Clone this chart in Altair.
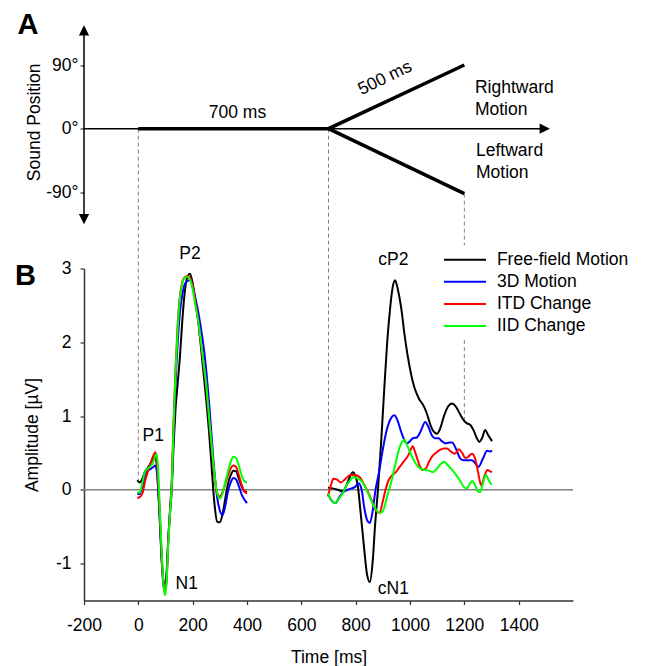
import altair as alt
import pandas as pd

FONT = "Liberation Sans"
FS = 17.5

# ---------------- data ----------------
SERIES = ["Free-field Motion", "3D Motion", "ITD Change", "IID Change"]
COLORS = ["#000000", "#0000ff", "#ff0000", "#00ff00"]

# segment 1 (sound onset), common time grid in ms
T1 = [-4, 5, 15, 25, 35, 45, 55, 62, 68, 74, 80, 86, 92, 98, 104, 110, 117, 123, 130, 137,
      145, 153, 162, 170, 180, 190, 200, 210, 220, 230, 240, 250, 260, 270, 280, 290, 300,
      310, 320, 330, 340, 350, 360, 370, 380, 390, 400]
BLACK_V1 = [0.13, 0.10, 0.15, 0.25, 0.30, 0.36, 0.44, 0.46, 0.33, -0.05, -0.5, -0.95, -1.22, -1.30,
            -1.12, -0.68, -0.3, 0.0, 0.62, 1.1, 1.45, 1.8, 2.3, 2.65, 2.88, 2.93, 2.8, 2.55, 2.3,
            1.95, 1.58, 1.22, 0.8, 0.3, -0.18, -0.43, -0.44, -0.33, -0.12, 0.08, 0.2, 0.26, 0.25,
            0.15, 0.05, -0.02, -0.03]
BLUE_V1 = [-0.05, -0.06, 0.05, 0.2, 0.26, 0.28, 0.31, 0.33, 0.25, -0.05, -0.45, -0.95, -1.28, -1.38,
           -1.2, -0.7, -0.25, 0.08, 0.8, 1.45, 2.0, 2.4, 2.65, 2.78, 2.83, 2.84, 2.77, 2.6, 2.42,
           2.2, 1.95, 1.62, 1.2, 0.72, 0.25, -0.1, -0.28, -0.34, -0.22, -0.02, 0.1, 0.16, 0.14,
           0.05, -0.06, -0.13, -0.18]
RED_V1 = [-0.11, -0.10, -0.05, 0.12, 0.25, 0.36, 0.46, 0.51, 0.40, 0.05, -0.4, -0.9, -1.25, -1.40,
          -1.22, -0.72, -0.25, 0.1, 0.95, 1.65, 2.25, 2.62, 2.82, 2.88, 2.9, 2.88, 2.76, 2.55, 2.3,
          2.02, 1.72, 1.4, 1.0, 0.58, 0.2, -0.05, -0.09, -0.03, 0.08, 0.2, 0.29, 0.33, 0.31, 0.2,
          0.07, -0.02, -0.05]
GREEN_V1 = [-0.03, -0.04, 0.10, 0.25, 0.29, 0.32, 0.38, 0.45, 0.49, 0.2, -0.35, -0.85, -1.25, -1.43,
            -1.25, -0.75, -0.3, 0.05, 0.9, 1.6, 2.2, 2.6, 2.8, 2.87, 2.89, 2.85, 2.72, 2.5, 2.3,
            2.02, 1.72, 1.42, 1.0, 0.6, 0.22, -0.04, -0.12, -0.05, 0.1, 0.25, 0.38, 0.45, 0.43,
            0.33, 0.2, 0.12, 0.1]

# segment 2 (motion onset)
BLACK_T2 = [698, 715, 735, 752, 765, 778, 790, 800, 808, 818, 830, 842, 852, 862, 872, 882, 893,
            905, 916, 926, 936, 945, 955, 969, 980, 990, 1005, 1015, 1025, 1035, 1045, 1055, 1065,
            1075, 1085, 1099, 1110, 1125, 1140, 1155, 1170, 1185, 1198, 1210, 1222, 1235, 1246,
            1255, 1265, 1277, 1288, 1302]
BLACK_V2 = [0.03, 0.02, 0.0, -0.02, 0.05, 0.17, 0.24, 0.18, 0.05, -0.3, -0.75, -1.15, -1.25, -1.0,
            -0.45, 0.0, 0.6, 1.35, 2.0, 2.43, 2.74, 2.84, 2.72, 2.43, 2.1, 1.85, 1.55, 1.4, 1.3,
            1.22, 1.17, 1.1, 1.0, 0.88, 0.8, 0.76, 0.82, 1.0, 1.13, 1.17, 1.12, 1.02, 0.94, 0.9,
            0.88, 0.8, 0.7, 0.65, 0.7, 0.81, 0.74, 0.66]
BLUE_T2 = [698, 710, 725, 740, 755, 770, 785, 798, 811, 822, 832, 843, 852, 862, 873, 885, 900,
           915, 930, 943, 955, 968, 980, 989, 1000, 1010, 1025, 1040, 1056, 1068, 1080, 1092, 1105,
           1117, 1130, 1145, 1155, 1170, 1184, 1198, 1215, 1228, 1240, 1252, 1268, 1284, 1295, 1302]
BLUE_V2 = [-0.05, -0.14, -0.18, -0.1, -0.03, 0.0, 0.02, 0.04, 0.09, 0.0, -0.25, -0.42, -0.45, -0.3,
           0.0, 0.22, 0.55, 0.82, 0.97, 1.01, 0.93, 0.78, 0.67, 0.63, 0.66, 0.7, 0.71, 0.8, 0.92,
           0.85, 0.74, 0.7, 0.7, 0.66, 0.63, 0.64, 0.64, 0.55, 0.43, 0.4, 0.4, 0.4, 0.36, 0.31,
           0.42, 0.53, 0.52, 0.53]
RED_T2 = [698, 708, 718, 731, 745, 760, 780, 800, 815, 830, 848, 865, 878, 888, 900, 910, 921, 935,
          946, 960, 976, 994, 1003, 1010, 1018, 1027, 1036, 1046, 1058, 1070, 1081, 1095, 1110,
          1125, 1136, 1150, 1165, 1180, 1192, 1204, 1215, 1228, 1240, 1250, 1262, 1275, 1285,
          1295, 1302]
RED_V2 = [-0.09, 0.05, 0.15, 0.14, 0.1, 0.14, 0.2, 0.2, 0.17, 0.08, -0.05, -0.2, -0.3, -0.31,
          -0.15, 0.0, 0.13, 0.2, 0.23, 0.3, 0.38, 0.47, 0.55, 0.59, 0.52, 0.42, 0.32, 0.27, 0.29,
          0.38, 0.45, 0.5, 0.54, 0.56, 0.56, 0.52, 0.49, 0.55, 0.5, 0.43, 0.45, 0.49, 0.42, 0.25,
          0.06, 0.2, 0.27, 0.25, 0.24]
GREEN_T2 = [698, 712, 725, 738, 750, 765, 780, 792, 805, 823, 840, 858, 875, 890, 900, 915, 934,
            948, 962, 973, 980, 990, 1005, 1020, 1037, 1055, 1070, 1085, 1100, 1113, 1126, 1140,
            1155, 1170, 1185, 1198, 1209, 1220, 1230, 1240, 1250, 1258, 1268, 1279, 1290, 1300]
GREEN_V2 = [-0.05, -0.15, -0.18, -0.12, -0.06, 0.05, 0.13, 0.17, 0.16, 0.11, 0.0, -0.15, -0.27,
            -0.31, -0.29, -0.1, 0.15, 0.38, 0.58, 0.66, 0.68, 0.6, 0.47, 0.36, 0.29, 0.27, 0.26,
            0.24, 0.29, 0.35, 0.38, 0.33, 0.27, 0.2, 0.12, 0.04, 0.02, 0.08, 0.12, 0.06, -0.02,
            -0.03, 0.08, 0.2, 0.13, 0.07]

X_TICKS = [-200, 0, 200, 400, 600, 800, 1000, 1200, 1400]
Y_TICKS = [-1, 0, 1, 2, 3]
DEG_TICKS = [90, 0, -90]

# schematic of panel A (time in ms, position in degrees)
PATH_NAMES = ["right", "right", "right", "left", "left"]
PATH_T = [0, 700, 1200, 700, 1200]
PATH_DEG = [0, 0, 90, 0, -92]
EVENT_T = [0, 700, 1200]           # stimulus onset, motion onset, motion offset

# ---------------- layout constants ----------------
W, HA, HB = 489, 243, 332
XDOM = [-200, 1600]
YDOM_A = [-197.8, 145.9]
YDOM_B = [-1.5, 3]
LETTER_FS = 29

xs = alt.Scale(domain=XDOM, nice=False, zero=False)
ysA = alt.Scale(domain=YDOM_A, nice=False, zero=False)
ysB = alt.Scale(domain=YDOM_B, nice=False, zero=False)

axA_y = alt.Axis(values=DEG_TICKS, labelExpr="datum.value + '°'", domain=False, title=None,
                 tickSize=4, labelPadding=2, grid=False)
axB_x = alt.Axis(values=X_TICKS, labelExpr="'' + datum.value", title="Time [ms]", tickSize=4,
                 labelPadding=12, titlePadding=14, grid=False)
axB_y = alt.Axis(values=Y_TICKS, labelExpr="'' + datum.value", title="Amplitude [µV]",
                 tickSize=4, labelPadding=9, titlePadding=14, grid=False)

XA = lambda f="x": alt.X(f"{f}:Q", scale=xs, axis=None)
YA = lambda f="y": alt.Y(f"{f}:Q", scale=ysA, axis=axA_y)
XB = lambda f="x": alt.X(f"{f}:Q", scale=xs, axis=axB_x)
YB = lambda f="y": alt.Y(f"{f}:Q", scale=ysB, axis=axB_y)

DASH = dict(color="#808080", strokeWidth=1, strokeDash=[4, 3])

# ---------------- panel A ----------------
dashA = pd.DataFrame({"x": EVENT_T, "y": [0, 0, -92], "y2": [YDOM_A[0], YDOM_A[0], -165]})
a_dash = alt.Chart(dashA).mark_rule(**DASH).encode(x=XA(), y=YA(), y2="y2:Q")

a_hline = alt.Chart(pd.DataFrame({"x": [-200], "x2": [1495], "y": [0]})).mark_rule(
    color="black", strokeWidth=1.5).encode(x=XA(), x2="x2:Q", y=YA())
a_vline = alt.Chart(pd.DataFrame({"x": [-200], "y": [-128], "y2": [139]})).mark_rule(
    color="black", strokeWidth=1.5).encode(x=XA(), y=YA(), y2="y2:Q")

arrows = pd.DataFrame({"x": [-200, -200, 1496], "y": [138.9, -128.1, 0],
                       "dir": ["up", "down", "right"]})
a_arrows = alt.Chart(arrows).mark_point(filled=True, opacity=1, color="black").encode(
    x=XA(), y=YA(),
    shape=alt.Shape("dir:N", scale=alt.Scale(domain=["up", "down", "right"],
                    range=["M0,-1L1,1L-1,1Z", "M0,1L1,-1L-1,-1Z", "M1,0L-1,-1L-1,1Z"]), legend=None),
    size=alt.value(105))

paths = pd.DataFrame({"path": PATH_NAMES, "x": PATH_T, "y": PATH_DEG, "o": range(len(PATH_T))})
a_paths = alt.Chart(paths).mark_line(color="black", strokeWidth=3.5, strokeJoin="miter").encode(
    x=XA(), y=YA(), detail="path:N", order="o:Q")

textA = pd.DataFrame({
    "x": [365, 1239, 1239, 1243, 1243],
    "y": [22, 56.9, 25.9, -32.1, -63.2],
    "t": ["700 ms", "Rightward", "Motion", "Leftward", "Motion"]})
a_text_c = alt.Chart(textA.iloc[:1]).mark_text(fontSize=FS, align="center", baseline="middle").encode(
    x=XA(), y=YA(), text="t:N")
a_text_l = alt.Chart(textA.iloc[1:]).mark_text(fontSize=FS, align="left", baseline="middle").encode(
    x=XA(), y=YA(), text="t:N")
a_500 = alt.Chart(pd.DataFrame({"x": [908], "y": [71.3], "t": ["500 ms"]})).mark_text(
    fontSize=FS, angle=334, align="center", baseline="middle").encode(x=XA(), y=YA(), text="t:N")
a_title = alt.Chart(pd.DataFrame({"x": [-380], "y": [8.9], "t": ["Sound Position"]})).mark_text(
    fontSize=FS, angle=270, align="center", baseline="middle").encode(x=XA(), y=YA(), text="t:N")
a_letter = alt.Chart(pd.DataFrame({"x": [-406], "y": [146], "t": ["A"]})).mark_text(
    fontSize=LETTER_FS, fontWeight="bold", align="center", baseline="middle").encode(
    x=XA(), y=YA(), text="t:N")

panelA = alt.layer(a_dash, a_hline, a_vline, a_arrows, a_paths, a_text_c, a_text_l, a_500,
                   a_title, a_letter).properties(width=W, height=HA)

# ---------------- panel B ----------------
CURVES = {
    "Free-field Motion": [(T1, BLACK_V1), (BLACK_T2, BLACK_V2)],
    "3D Motion": [(T1, BLUE_V1), (BLUE_T2, BLUE_V2)],
    "ITD Change": [(T1, RED_V1), (RED_T2, RED_V2)],
    "IID Change": [(T1, GREEN_V1), (GREEN_T2, GREEN_V2)],
}
rows = []
for name in SERIES:
    for seg, (ts, vs) in enumerate(CURVES[name]):
        for t, v in zip(ts, vs):
            rows.append({"series": name, "seg": seg, "x": t, "y": v})
curves = pd.DataFrame(rows)

b_zero = alt.Chart(pd.DataFrame({"x": [XDOM[0]], "x2": [XDOM[1]], "y": [0]})).mark_rule(
    color="#808080", strokeWidth=1.5).encode(x=XB(), x2="x2:Q", y=YB())
dashB = pd.DataFrame({"x": EVENT_T, "y": [3, 3, 2.03], "y2": [0.13, 0.05, 0.92]})
b_dash = alt.Chart(dashB).mark_rule(**DASH).encode(x=XB(), y=YB(), y2="y2:Q")

b_curves = [
    alt.Chart(curves[curves.series == name]).mark_line(
        color=col, strokeWidth=2, interpolate="monotone").encode(
        x=XB(), y=YB(), detail="seg:N", order="x:Q")
    for name, col in zip(SERIES, COLORS)
]

LEG_Y = [3.12, 2.82, 2.52, 2.22]
leg = pd.DataFrame({"series": SERIES, "x": [1125] * 4, "x2": [1280] * 4, "tx": [1320] * 4, "y": LEG_Y})
b_leg_lines = alt.Chart(leg).mark_rule(strokeWidth=2).encode(
    x=XB(), x2="x2:Q", y=YB(),
    color=alt.Color("series:N", scale=alt.Scale(domain=SERIES, range=COLORS), legend=None))
b_leg_text = alt.Chart(leg).mark_text(fontSize=FS, align="left", baseline="middle").encode(
    x=XB("tx"), y=YB(), text="series:N")

peaks = pd.DataFrame({"t": ["P1", "P2", "N1", "cP2", "cN1"],
                      "x": [55, 190, 178, 939, 939],
                      "y": [0.73, 3.2, -1.28, 3.12, -1.34]})
b_peaks = alt.Chart(peaks).mark_text(fontSize=FS, align="center", baseline="middle").encode(
    x=XB(), y=YB(), text="t:N")
b_letter = alt.Chart(pd.DataFrame({"x": [-415], "y": [2.9], "t": ["B"]})).mark_text(
    fontSize=LETTER_FS, fontWeight="bold", align="center", baseline="middle").encode(
    x=XB(), y=YB(), text="t:N")

panelB = alt.layer(b_zero, b_dash, *b_curves, b_leg_lines, b_leg_text, b_peaks, b_letter).properties(
    width=W, height=HB)

chart = alt.vconcat(panelA, panelB, spacing=0, bounds="flush").resolve_scale(
    x="independent", y="independent", shape="independent", color="independent"
).properties(
    padding={"left": 7, "top": 2.5, "right": 5, "bottom": 5}, background="white"
).configure(font=FONT).configure_view(stroke=None).configure_axis(
    domainColor="#333333", domainWidth=1.5, tickColor="#333333", tickWidth=1.2,
    labelFont=FONT, labelFontSize=FS, labelColor="black", labelFlush=False, labelOverlap=False,
    titleFont=FONT, titleFontSize=FS, titleFontWeight="normal", titleColor="black")

chart.save("out.html", embed_options={"renderer": "svg", "actions": False})
